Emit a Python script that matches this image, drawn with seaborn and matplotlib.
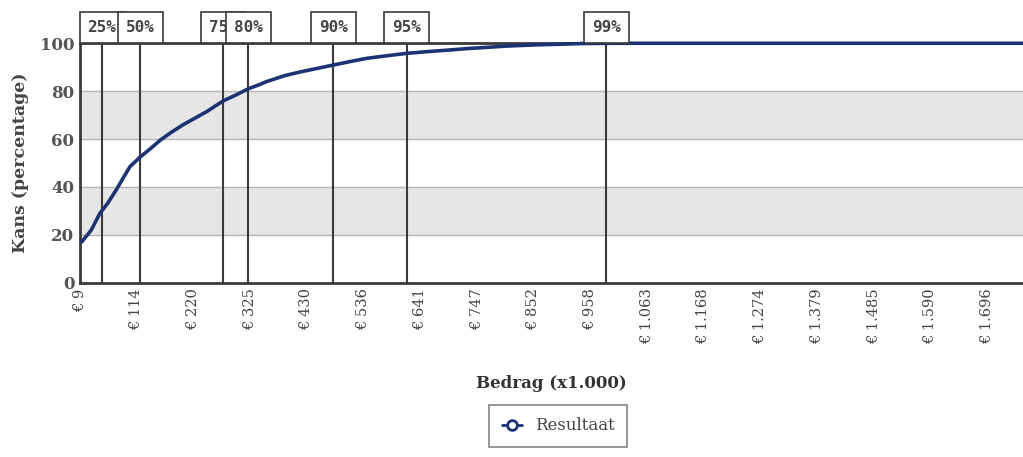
import matplotlib.pyplot as plt
import pandas as pd
import seaborn as sns
from matplotlib.lines import Line2D
from matplotlib.transforms import blended_transform_factory

# cumulative chance curve (amount x1.000 -> chance in %)
bedrag = [12, 30, 46, 60, 77, 90, 102, 121, 140, 158, 180, 201, 225, 245, 262,
          276, 300, 322, 340, 356, 390, 418, 450, 480, 510, 542, 580, 617, 660,
          697, 730, 759, 800, 852, 900, 945, 1000, 1800]
kans = [17, 22, 29, 33, 39, 44, 48.5, 52.5, 56, 59.5, 63, 66, 69, 71.5, 74,
        76, 78.5, 81, 82.5, 84, 86.5, 88, 89.5, 90.9, 92.3, 93.7, 94.8, 95.8,
        96.6, 97.2, 97.8, 98.2, 98.8, 99.3, 99.6, 99.9, 100, 100]

percentile_labels = ["25%", "50%", "75%", "80%", "90%", "95%", "99%"]
percentile_bedrag = [50, 121, 275, 322, 480, 617, 988]

tick_values = [9, 114, 220, 325, 430, 536, 641, 747, 852, 958, 1063, 1168,
               1274, 1379, 1485, 1590, 1696]
y_ticks = [0, 20, 40, 60, 80, 100]

NAVY = "#1c3272"
DARK = "#3a3a3a"

sns.set_theme(style="white")
plt.rcParams["font.family"] = ["DejaVu Serif"]

df = pd.DataFrame({"bedrag": bedrag, "kans": kans})

fig = plt.figure(figsize=(10.23, 4.57), dpi=100)
ax = fig.add_axes([0.0782, 0.3814, 0.9218, 0.5239])

# alternating bands and grid
for lo, hi in [(20, 40), (60, 80)]:
    ax.axhspan(lo, hi, color="#e6e6e6", zorder=0, lw=0)
for y in [20, 40, 60, 80]:
    ax.axhline(y, color="#b5b5b5", lw=1, zorder=1)

# percentile lines
for x in percentile_bedrag:
    ax.axvline(x, color=DARK, lw=1.5, zorder=2)

sns.lineplot(data=df, x="bedrag", y="kans", ax=ax, color=NAVY, lw=2.6,
             zorder=3, clip_on=False, legend=False)

ax.set_xlim(9, 1763)
ax.set_ylim(0, 100)

ax.set_xticks(tick_values)
ax.set_xticklabels([f"€ {v:,}".replace(",", ".") for v in tick_values],
                   rotation=90, fontsize=10.5, color="#444444")
ax.set_yticks(y_ticks)
ax.set_yticklabels([str(v) for v in y_ticks], fontsize=12,
                   fontweight="bold", color="#555555")
ax.tick_params(axis="both", length=0, pad=4)

ax.set_xlabel("Bedrag (x1.000)", fontsize=12, fontweight="bold",
              color="#333333")
ax.set_ylabel("Kans (percentage)", fontsize=12.5, fontweight="bold",
              color="#444444", labelpad=8)
ax.xaxis.set_label_coords(0.5, -0.385)

for side in ["left", "bottom", "top"]:
    ax.spines[side].set_color(DARK)
    ax.spines[side].set_linewidth(2)
ax.spines["right"].set_visible(False)

# percentile boxes above the plot
trans = blended_transform_factory(ax.transData, ax.transAxes)
for i, (lab, x) in enumerate(zip(percentile_labels, percentile_bedrag)):
    ax.annotate(lab, xy=(x, 1.0), xycoords=trans, xytext=(0, 6),
                textcoords="offset points", ha="center", va="bottom",
                fontsize=11.5, fontweight="bold", color="#444444",
                family="DejaVu Sans Mono", zorder=10 + i, annotation_clip=False,
                bbox=dict(boxstyle="square,pad=0.5", fc="white", ec=DARK, lw=1.2))

handle = Line2D([], [], color=NAVY, lw=2, marker="o", markersize=7,
                markerfacecolor="white", markeredgecolor=NAVY, markeredgewidth=2)
leg = fig.legend([handle], ["Resultaat"], loc="center",
                 bbox_to_anchor=(0.5455, 0.068), frameon=True, fancybox=False,
                 fontsize=12, handlelength=1.2, borderpad=0.75)
leg.get_frame().set_edgecolor("#666666")
leg.get_frame().set_linewidth(1.2)
for t in leg.get_texts():
    t.set_color("#444444")

fig.savefig("out.png", dpi=100)
